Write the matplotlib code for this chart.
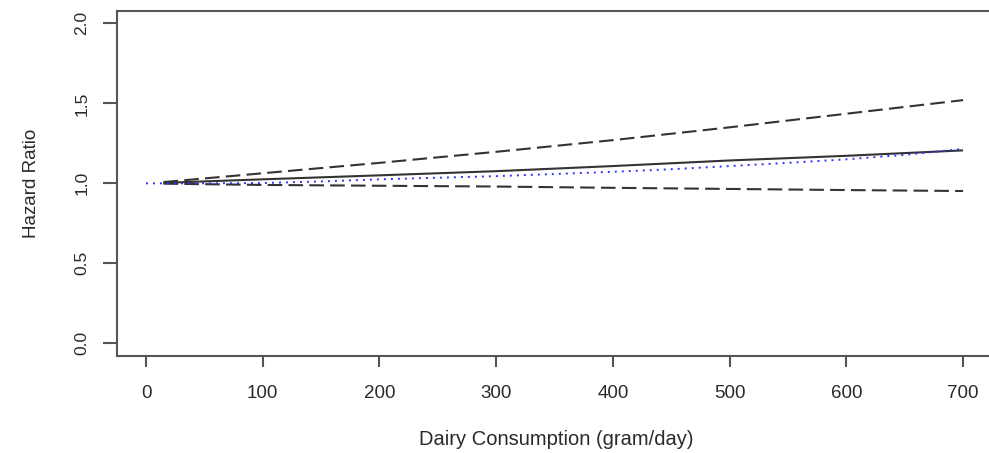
import matplotlib
matplotlib.use("Agg")
import matplotlib.pyplot as plt
import numpy as np

# Data
x_ci = [15, 100, 200, 300, 400, 500, 600, 700]
hr_fit = [1.003, 1.025, 1.050, 1.076, 1.108, 1.143, 1.172, 1.206]
hr_upper = [1.008, 1.063, 1.128, 1.197, 1.270, 1.350, 1.435, 1.520]
hr_lower = [0.998, 0.990, 0.985, 0.980, 0.972, 0.965, 0.958, 0.952]

x_spline = [0, 50, 100, 150, 200, 250, 300, 350, 400, 450, 500, 550, 600, 650, 700]
hr_spline = [1.000, 1.000, 1.002, 1.012, 1.025, 1.035, 1.045, 1.058, 1.072,
             1.088, 1.108, 1.128, 1.150, 1.178, 1.215]

xticks = [0, 100, 200, 300, 400, 500, 600, 700]
yticks = [0.0, 0.5, 1.0, 1.5, 2.0]
ytick_labels = ["0.0", "0.5", "1.0", "1.5", "2.0"]

plt.rcParams['font.family'] = ['Liberation Sans', 'DejaVu Sans']

fig = plt.figure(figsize=(9.89, 4.53), dpi=100)
ax = fig.add_axes([117/989, 97/453, 0.8885, 345/453])

line_col = '#333333'
ax.plot(x_ci, hr_fit, color=line_col, lw=1.5, solid_capstyle='butt')
ax.plot(x_ci, hr_upper, color=line_col, lw=1.5, linestyle=(0, (7, 3)))
ax.plot(x_ci, hr_lower, color=line_col, lw=1.5, linestyle=(0, (7, 3)))
ax.plot(x_spline, hr_spline, color='#3030ff', lw=1.4, linestyle=(0, (1, 2.6)))

ax.set_xlim(-24.85, 728)
ax.set_ylim(-0.079, 2.077)

ax.set_xticks(xticks)
ax.set_xticklabels([str(t) for t in xticks])
ax.set_yticks(yticks)
ax.set_yticklabels(ytick_labels, rotation=90, va='center')

spine_col = '#555555'
for s in ax.spines.values():
    s.set_color(spine_col)
    s.set_linewidth(1.5)

txt_col = '#2a2a2a'
ax.tick_params(axis='x', direction='out', length=8, width=1.5, color=spine_col,
               pad=13, labelsize=13.5, labelcolor=txt_col)
ax.tick_params(axis='y', direction='out', length=10, width=1.5, color=spine_col,
               pad=10, labelsize=12.5, labelcolor=txt_col)

ax.set_xlabel("Dairy Consumption (gram/day)", fontsize=14.5, color=txt_col, labelpad=20)
ax.set_ylabel("Hazard Ratio", fontsize=13.5, color=txt_col, labelpad=25)

fig.savefig("out.png", dpi=100)
